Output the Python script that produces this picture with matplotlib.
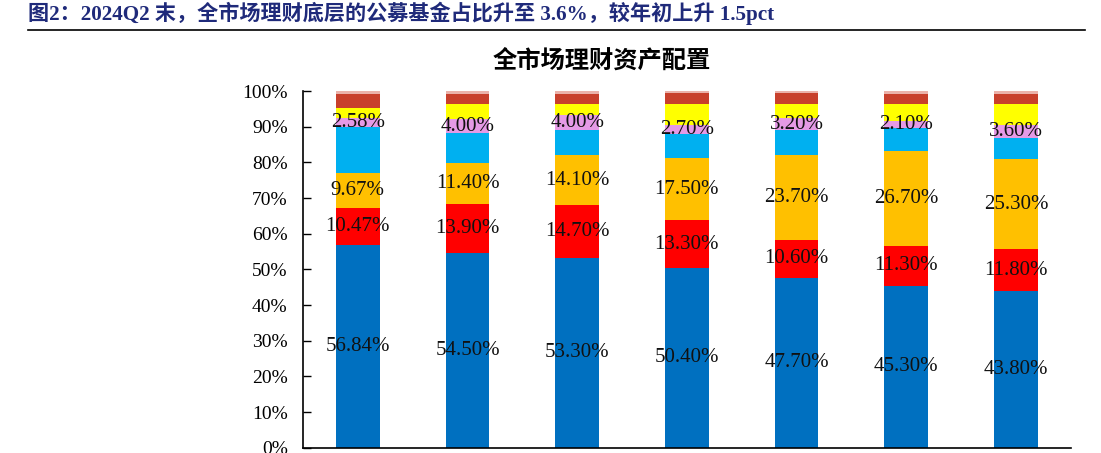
import matplotlib
matplotlib.use("Agg")
import matplotlib.pyplot as plt
import numpy as np
from matplotlib.ticker import FuncFormatter

# periods (x labels fall below the cropped figure)
periods = ['2020', '2021', '2022H1', '2022', '2023H1', '2023', '2024H1']

# asset shares, %
bonds = [56.84, 54.50, 53.30, 50.40, 47.70, 45.30, 43.80]
cash = [10.47, 13.90, 14.70, 13.30, 10.60, 11.30, 11.80]
cds = [9.67, 11.40, 14.10, 17.50, 23.70, 26.70, 25.30]
repo = [13.00, 8.30, 7.10, 6.70, 7.10, 6.30, 5.90]
funds = [2.58, 4.00, 4.00, 2.70, 3.20, 2.10, 3.60]
equity = [2.80, 4.20, 3.10, 5.70, 4.00, 4.60, 5.90]
nonstd = [3.80, 2.90, 2.90, 3.20, 3.20, 2.90, 2.90]
other = [0.84, 0.80, 0.80, 0.50, 0.50, 0.80, 0.80]

series = [bonds, cash, cds, repo, funds, equity, nonstd, other]
names = ['债券', '现金及银行存款', '同业存单', '拆放同业及买入返售',
         '公募基金', '权益类资产', '非标准化债权', '其他']
colors = ['#0070C0', '#FF0000', '#FFC000', '#00B0F0',
          '#E59AE6', '#FFFF00', '#C8402C', '#EBB2AA']
labelled = [0, 1, 2, 4]

serif = ['Liberation Serif', 'Noto Sans CJK SC']

fig = plt.figure(figsize=(11.01, 4.53), dpi=100)
ax = fig.add_axes([0.2752, 0.0117, 0.6973, 0.7874])

x = np.arange(len(periods))
bottom = np.zeros(len(periods))
for i, (vals, name, c) in enumerate(zip(series, names, colors)):
    vals = np.array(vals)
    bars = ax.bar(x, vals, 0.4, bottom=bottom, color=c, label=name)
    if i in labelled:
        ax.bar_label(bars, labels=['%.2f%%' % v for v in vals],
                     label_type='center', fontsize=15, family=serif,
                     color='#111111')
    bottom += vals

ax.set_xlim(-0.5, len(periods) - 0.5)
ax.set_ylim(0, 100)
ax.set_yticks(np.arange(0, 101, 10))
ax.yaxis.set_major_formatter(FuncFormatter(lambda v, p: '%d%%' % v))
ax.set_xticks(x)
ax.set_xticklabels(periods)
# category labels sit below the crop in the source image
ax.tick_params(axis='x', length=0, labelbottom=False)
ax.tick_params(axis='y', direction='in', length=6, width=1, pad=11,
               labelsize=14)
for lab in ax.get_yticklabels():
    lab.set_family(serif)
for s in ['top', 'right']:
    ax.spines[s].set_visible(False)
for s in ['left', 'bottom']:
    ax.spines[s].set_linewidth(1.2)

fig.text(602 / 1101, 1 - 61 / 453, '全市场理财资产配置', ha='center', va='center',
         fontsize=17.5, fontweight='bold', family=['Noto Sans CJK SC'])

fig.text(28 / 1101, 1 - 13 / 453,
         '图2：2024Q2 末，全市场理财底层的公募基金占比升至 3.6%，较年初上升 1.5pct',
         ha='left', va='center', fontsize=15.2, fontweight='bold',
         color='#1F2A7A', family=serif)
fig.add_artist(plt.Line2D([28 / 1101, 1085 / 1101], [1 - 29.5 / 453] * 2,
                          color='black', linewidth=1.2))

fig.savefig('out.png', dpi=100)
